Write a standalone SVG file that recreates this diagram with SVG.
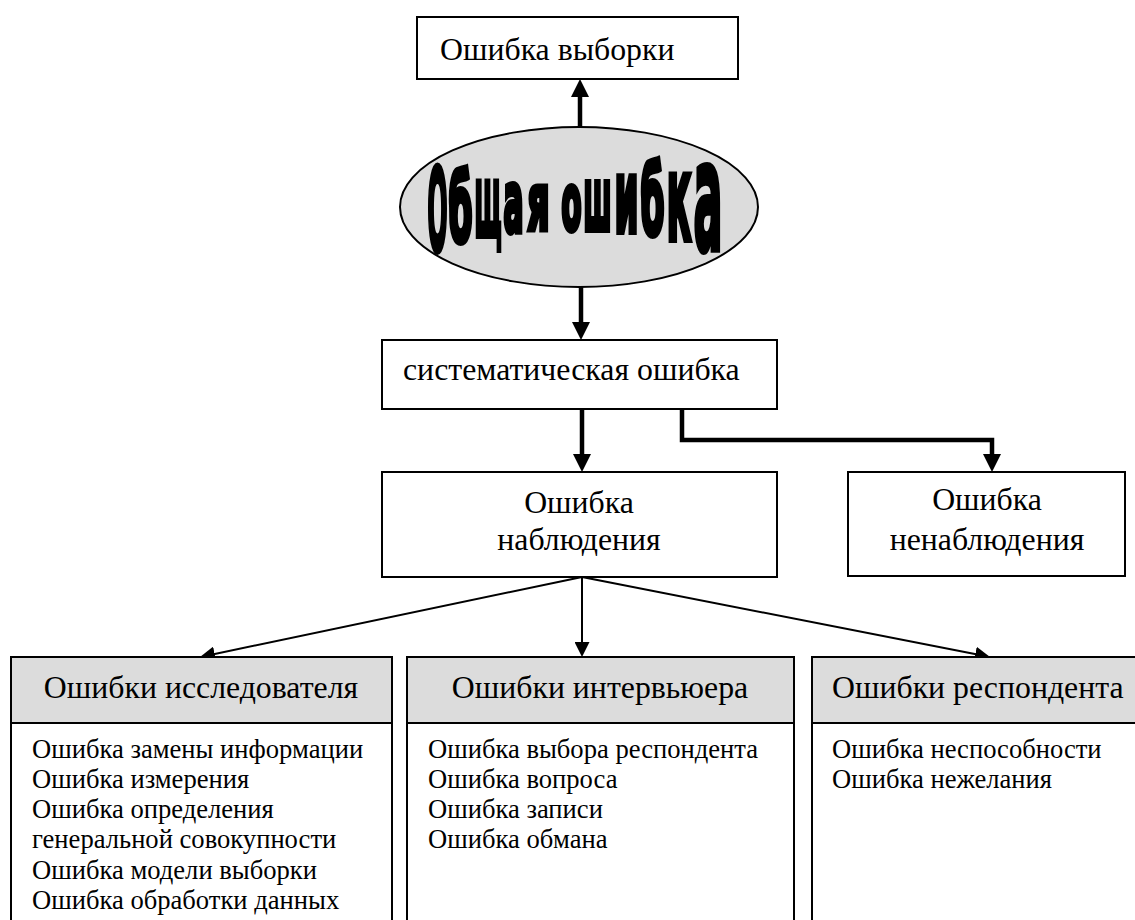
<svg xmlns="http://www.w3.org/2000/svg" width="1135" height="920" viewBox="0 0 1135 920">
<style>
.box{fill:#fff;stroke:#000;stroke-width:2}
.hdr{fill:#dcdcdc;stroke:#000;stroke-width:2}
.t{font-family:"Liberation Serif","Times New Roman",serif;fill:#000}
.big{font-size:31.8px}
.body{font-size:26.6px}
.thick{stroke:#000;stroke-width:4.5;fill:none}
.thin{stroke:#000;stroke-width:2;fill:none}
.wa{font-family:"Liberation Sans Narrow","DejaVu Sans Condensed","Liberation Sans",sans-serif;font-weight:bold;fill:#000;stroke:#000;stroke-width:3;vector-effect:non-scaling-stroke}
</style>
<defs>
<marker id="ah" markerUnits="userSpaceOnUse" markerWidth="18" markerHeight="18" refX="8" refY="9" orient="auto"><path d="M0,0 L18,9 L0,18 z" fill="#000"/></marker>
<marker id="as" markerUnits="userSpaceOnUse" markerWidth="15" markerHeight="15" refX="6" refY="7.5" orient="auto"><path d="M0,0 L15,7.5 L0,15 z" fill="#000"/></marker>
</defs>
<rect width="1135" height="920" fill="#fff"/>

<g id="connectors">
<line class="thick" x1="580" y1="127" x2="580" y2="89" marker-end="url(#ah)"/>
<line class="thick" x1="581" y1="287" x2="581" y2="330" marker-end="url(#ah)"/>
<line class="thick" x1="582" y1="409" x2="582" y2="462" marker-end="url(#ah)"/>
<polyline class="thick" points="682,409 682,440 992,440 992,462" marker-end="url(#ah)"/>
<line class="thin" x1="582" y1="577" x2="208.8" y2="655.2" marker-end="url(#as)"/>
<line class="thin" x1="582" y1="577" x2="582" y2="648" marker-end="url(#as)"/>
<line class="thin" x1="582" y1="577" x2="981.2" y2="655.3" marker-end="url(#as)"/>
</g>

<g id="sampling-error">
<rect class="box" x="417" y="17" width="321" height="62"/>
<text class="t big" x="440" y="60">Ошибка выборки</text>
</g>

<g id="total-error">
<ellipse cx="579" cy="207" rx="179" ry="80" fill="#dcdcdc" stroke="#000" stroke-width="2"/>
<text class="wa" transform="scale(1,2)" lengthAdjust="spacingAndGlyphs"><tspan x="427.5" y="125" font-size="57" textLength="20" lengthAdjust="spacingAndGlyphs">О</tspan><tspan x="448.5" y="121" font-size="47" textLength="24" lengthAdjust="spacingAndGlyphs">б</tspan><tspan x="474.5" y="118" font-size="50" textLength="27" lengthAdjust="spacingAndGlyphs">щ</tspan><tspan x="503.5" y="116" font-size="42.5" textLength="20" lengthAdjust="spacingAndGlyphs">а</tspan><tspan x="527.5" y="115" font-size="39.6" textLength="22" lengthAdjust="spacingAndGlyphs">я</tspan><tspan x="561.5" y="115" font-size="39.6" textLength="20" lengthAdjust="spacingAndGlyphs">о</tspan><tspan x="583.5" y="115" font-size="44" textLength="28" lengthAdjust="spacingAndGlyphs">ш</tspan><tspan x="614.5" y="116" font-size="51" textLength="24" lengthAdjust="spacingAndGlyphs">и</tspan><tspan x="640.5" y="117.5" font-size="48" textLength="24" lengthAdjust="spacingAndGlyphs">б</tspan><tspan x="666.5" y="120" font-size="60" textLength="25" lengthAdjust="spacingAndGlyphs">к</tspan><tspan x="693.5" y="125" font-size="75.5" textLength="29" lengthAdjust="spacingAndGlyphs">а</tspan></text>
</g>

<g id="systematic-error">
<rect class="box" x="382" y="340" width="395" height="69"/>
<text class="t big" x="403" y="380">систематическая ошибка</text>
</g>

<g id="observation-error">
<rect class="box" x="382" y="472" width="395" height="105"/>
<text class="t big" x="579" y="513" text-anchor="middle">Ошибка</text>
<text class="t big" x="579" y="550" text-anchor="middle">наблюдения</text>
</g>

<g id="nonobservation-error">
<rect class="box" x="848" y="472" width="277" height="104"/>
<text class="t big" x="987" y="510" text-anchor="middle">Ошибка</text>
<text class="t big" x="987" y="550" text-anchor="middle">ненаблюдения</text>
</g>

<g id="researcher-errors">
<rect class="hdr" x="11" y="657" width="381" height="66"/>
<rect class="box" x="11" y="723" width="381" height="210"/>
<text class="t big" x="201" y="698" text-anchor="middle">Ошибки исследователя</text>
<text class="t body" x="32" y="758">Ошибка замены информации</text>
<text class="t body" x="32" y="788">Ошибка измерения</text>
<text class="t body" x="32" y="818">Ошибка определения</text>
<text class="t body" x="32" y="848">генеральной совокупности</text>
<text class="t body" x="32" y="879">Ошибка модели выборки</text>
<text class="t body" x="32" y="909">Ошибка обработки данных</text>
</g>

<g id="interviewer-errors">
<rect class="hdr" x="407" y="657" width="387" height="66"/>
<rect class="box" x="407" y="723" width="387" height="210"/>
<text class="t big" x="600" y="698" text-anchor="middle">Ошибки интервьюера</text>
<text class="t body" x="428" y="758">Ошибка выбора респондента</text>
<text class="t body" x="428" y="788">Ошибка вопроса</text>
<text class="t body" x="428" y="818">Ошибка записи</text>
<text class="t body" x="428" y="848">Ошибка обмана</text>
</g>

<g id="respondent-errors">
<rect class="hdr" x="812" y="657" width="340" height="66"/>
<rect class="box" x="812" y="723" width="340" height="210"/>
<text class="t big" x="832" y="698">Ошибки респондента</text>
<text class="t body" x="832" y="758">Ошибка неспособности</text>
<text class="t body" x="832" y="788">Ошибка нежелания</text>
</g>
</svg>
